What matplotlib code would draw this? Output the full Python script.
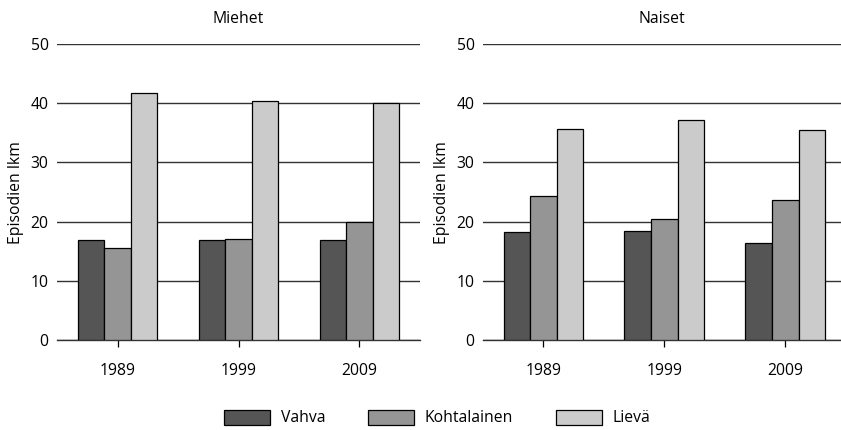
import numpy as np
import matplotlib
matplotlib.use('Agg')
import matplotlib.pyplot as plt

plt.rcParams['font.family'] = ['Open Sans', 'DejaVu Sans']

# Data.
years = ['1989', '1999', '2009']
series = ['Vahva', 'Kohtalainen', 'Lievä']
colors = ['#555555', '#959595', '#cbcbcb']

miehet_vahva = [17.0, 16.9, 16.9]
miehet_kohtalainen = [15.5, 17.1, 20.0]
miehet_lieva = [41.7, 40.4, 40.0]

naiset_vahva = [18.2, 18.4, 16.4]
naiset_kohtalainen = [24.4, 20.4, 23.7]
naiset_lieva = [35.7, 37.2, 35.4]

panels = [
    ('Miehet', [miehet_vahva, miehet_kohtalainen, miehet_lieva]),
    ('Naiset', [naiset_vahva, naiset_kohtalainen, naiset_lieva]),
]

fs = 11.3

fig = plt.figure(figsize=(8.41, 4.30), dpi=100)
ax_left = fig.add_axes([0.0678, 0.2086, 0.4316, 0.6894])
ax_right = fig.add_axes([0.5743, 0.2086, 0.4257, 0.6894])

x = np.arange(len(years))
width = 0.22

for ax, (title, values), xmax in [(ax_left, panels[0], 2.5), (ax_right, panels[1], 2.46)]:
    for k, (name, vals, col) in enumerate(zip(series, values, colors)):
        ax.bar(x + (k - 1) * width, vals, width, color=col, edgecolor='black',
               linewidth=0.9, label=name, zorder=3)

    # The visual aspects of the plot.
    ax.set_xlim(-0.5, xmax)
    ax.set_ylim(0, 50)
    ax.set_yticks([0, 10, 20, 30, 40, 50])
    ax.set_xticks(x)
    ax.set_xticklabels(years)
    ax.yaxis.grid(True, color='#333333', linewidth=1.0, zorder=0)
    ax.set_axisbelow(True)
    for side in ['top', 'right', 'left']:
        ax.spines[side].set_visible(False)
    ax.spines['bottom'].set_color('#333333')
    ax.spines['bottom'].set_linewidth(1.0)
    ax.tick_params(axis='y', length=0, pad=6, labelsize=fs)
    ax.tick_params(axis='x', length=5, width=0.9, pad=11, labelsize=fs)
    ax.set_ylabel('Episodien lkm', fontsize=fs, labelpad=5)
    ax.set_title(title, fontsize=fs, pad=15)

handles, labels = ax_left.get_legend_handles_labels()
fig.legend(handles, labels, loc='center', bbox_to_anchor=(0.52, 0.028), ncol=3,
           frameon=False, fontsize=fs, handlelength=2.9, handleheight=1.1,
           handletextpad=0.7, columnspacing=2.75)

fig.savefig('out.png', dpi=100)
